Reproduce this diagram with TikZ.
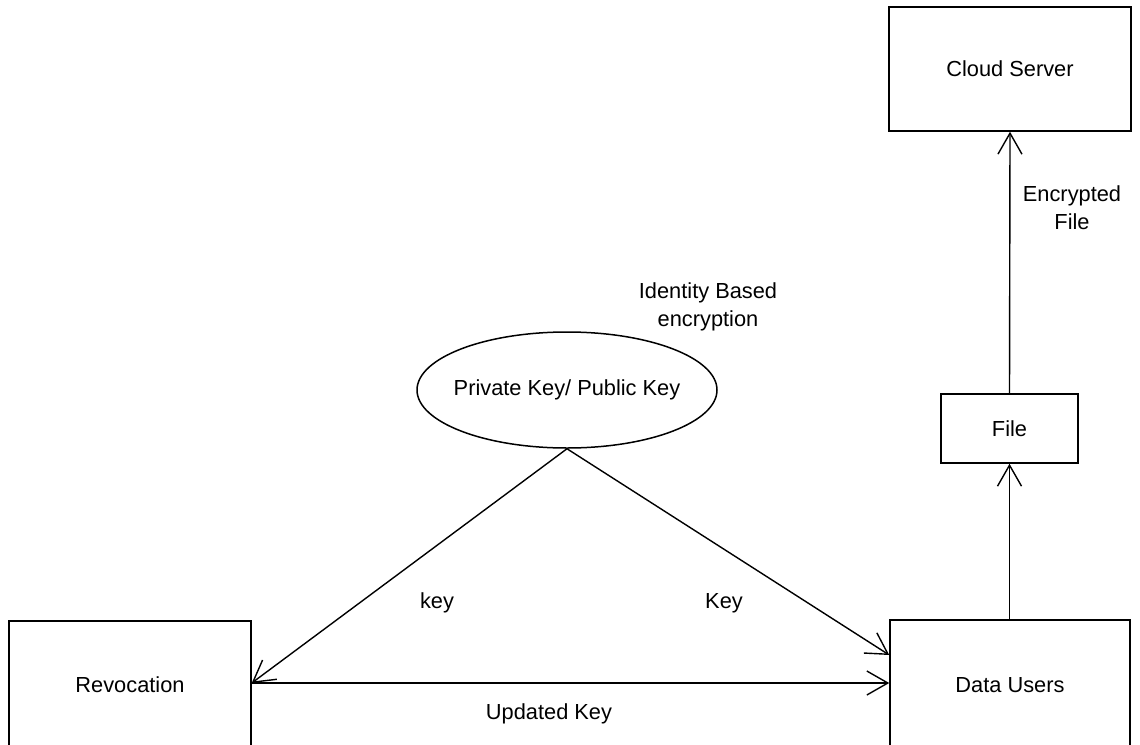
\documentclass[tikz,border=0pt]{standalone}
\usepackage{fontspec}
\setmainfont{Liberation Sans}
\usetikzlibrary{arrows.meta,shapes.geometric}
\begin{document}
\begin{tikzpicture}[x=1pt,y=-1pt,
  every node/.style={font=\fontsize{21.8}{28}\selectfont, inner sep=0pt},
  box/.style={draw, line width=1.5pt, minimum width=#1},
  conn/.style={line width=1.4pt, -{Straight Barb[length=21pt,width=24pt]}},
  lbl/.style={align=center}]
\useasboundingbox (0,0) rectangle (1140,744);
\node[box=242pt, minimum height=124pt] (cloud) at (1010,69) {Cloud Server};
\node[box=137pt, minimum height=69pt] (file) at (1009.5,428.5) {File};
\node[box=240pt, minimum height=132pt] (du) at (1010,686) {\raisebox{3pt}{Data Users}};
\node[box=242pt, minimum height=130pt] (rev) at (130,686) {\raisebox{3pt}{Revocation}};
\node[draw, ellipse, line width=1.5pt, minimum width=300pt, minimum height=116pt] (pk) at (567,390) {\makebox[0pt]{Private Key/ Public Key}};
\node[lbl] (ibe) at (708,307) {Identity Based\\encryption};
\node[lbl] (enc) at (1072,208) {Encrypted\\File};
\node (k1) at (437,603) {key};
\node (k2) at (724,603) {Key};
\node (uk) at (549,714) {Updated Key};
\draw[conn] (file.north) -- (cloud.south);
\draw[conn] (du.north -| file.south) -- (file.south);
\draw[conn] (pk.south) -- ([yshift=3pt]rev.east);
\draw[conn] (pk.south) -- ([yshift=31pt]du.west);
\draw[conn] ([yshift=3pt]rev.east) -- ([yshift=3pt]du.west);
\end{tikzpicture}
\end{document}
